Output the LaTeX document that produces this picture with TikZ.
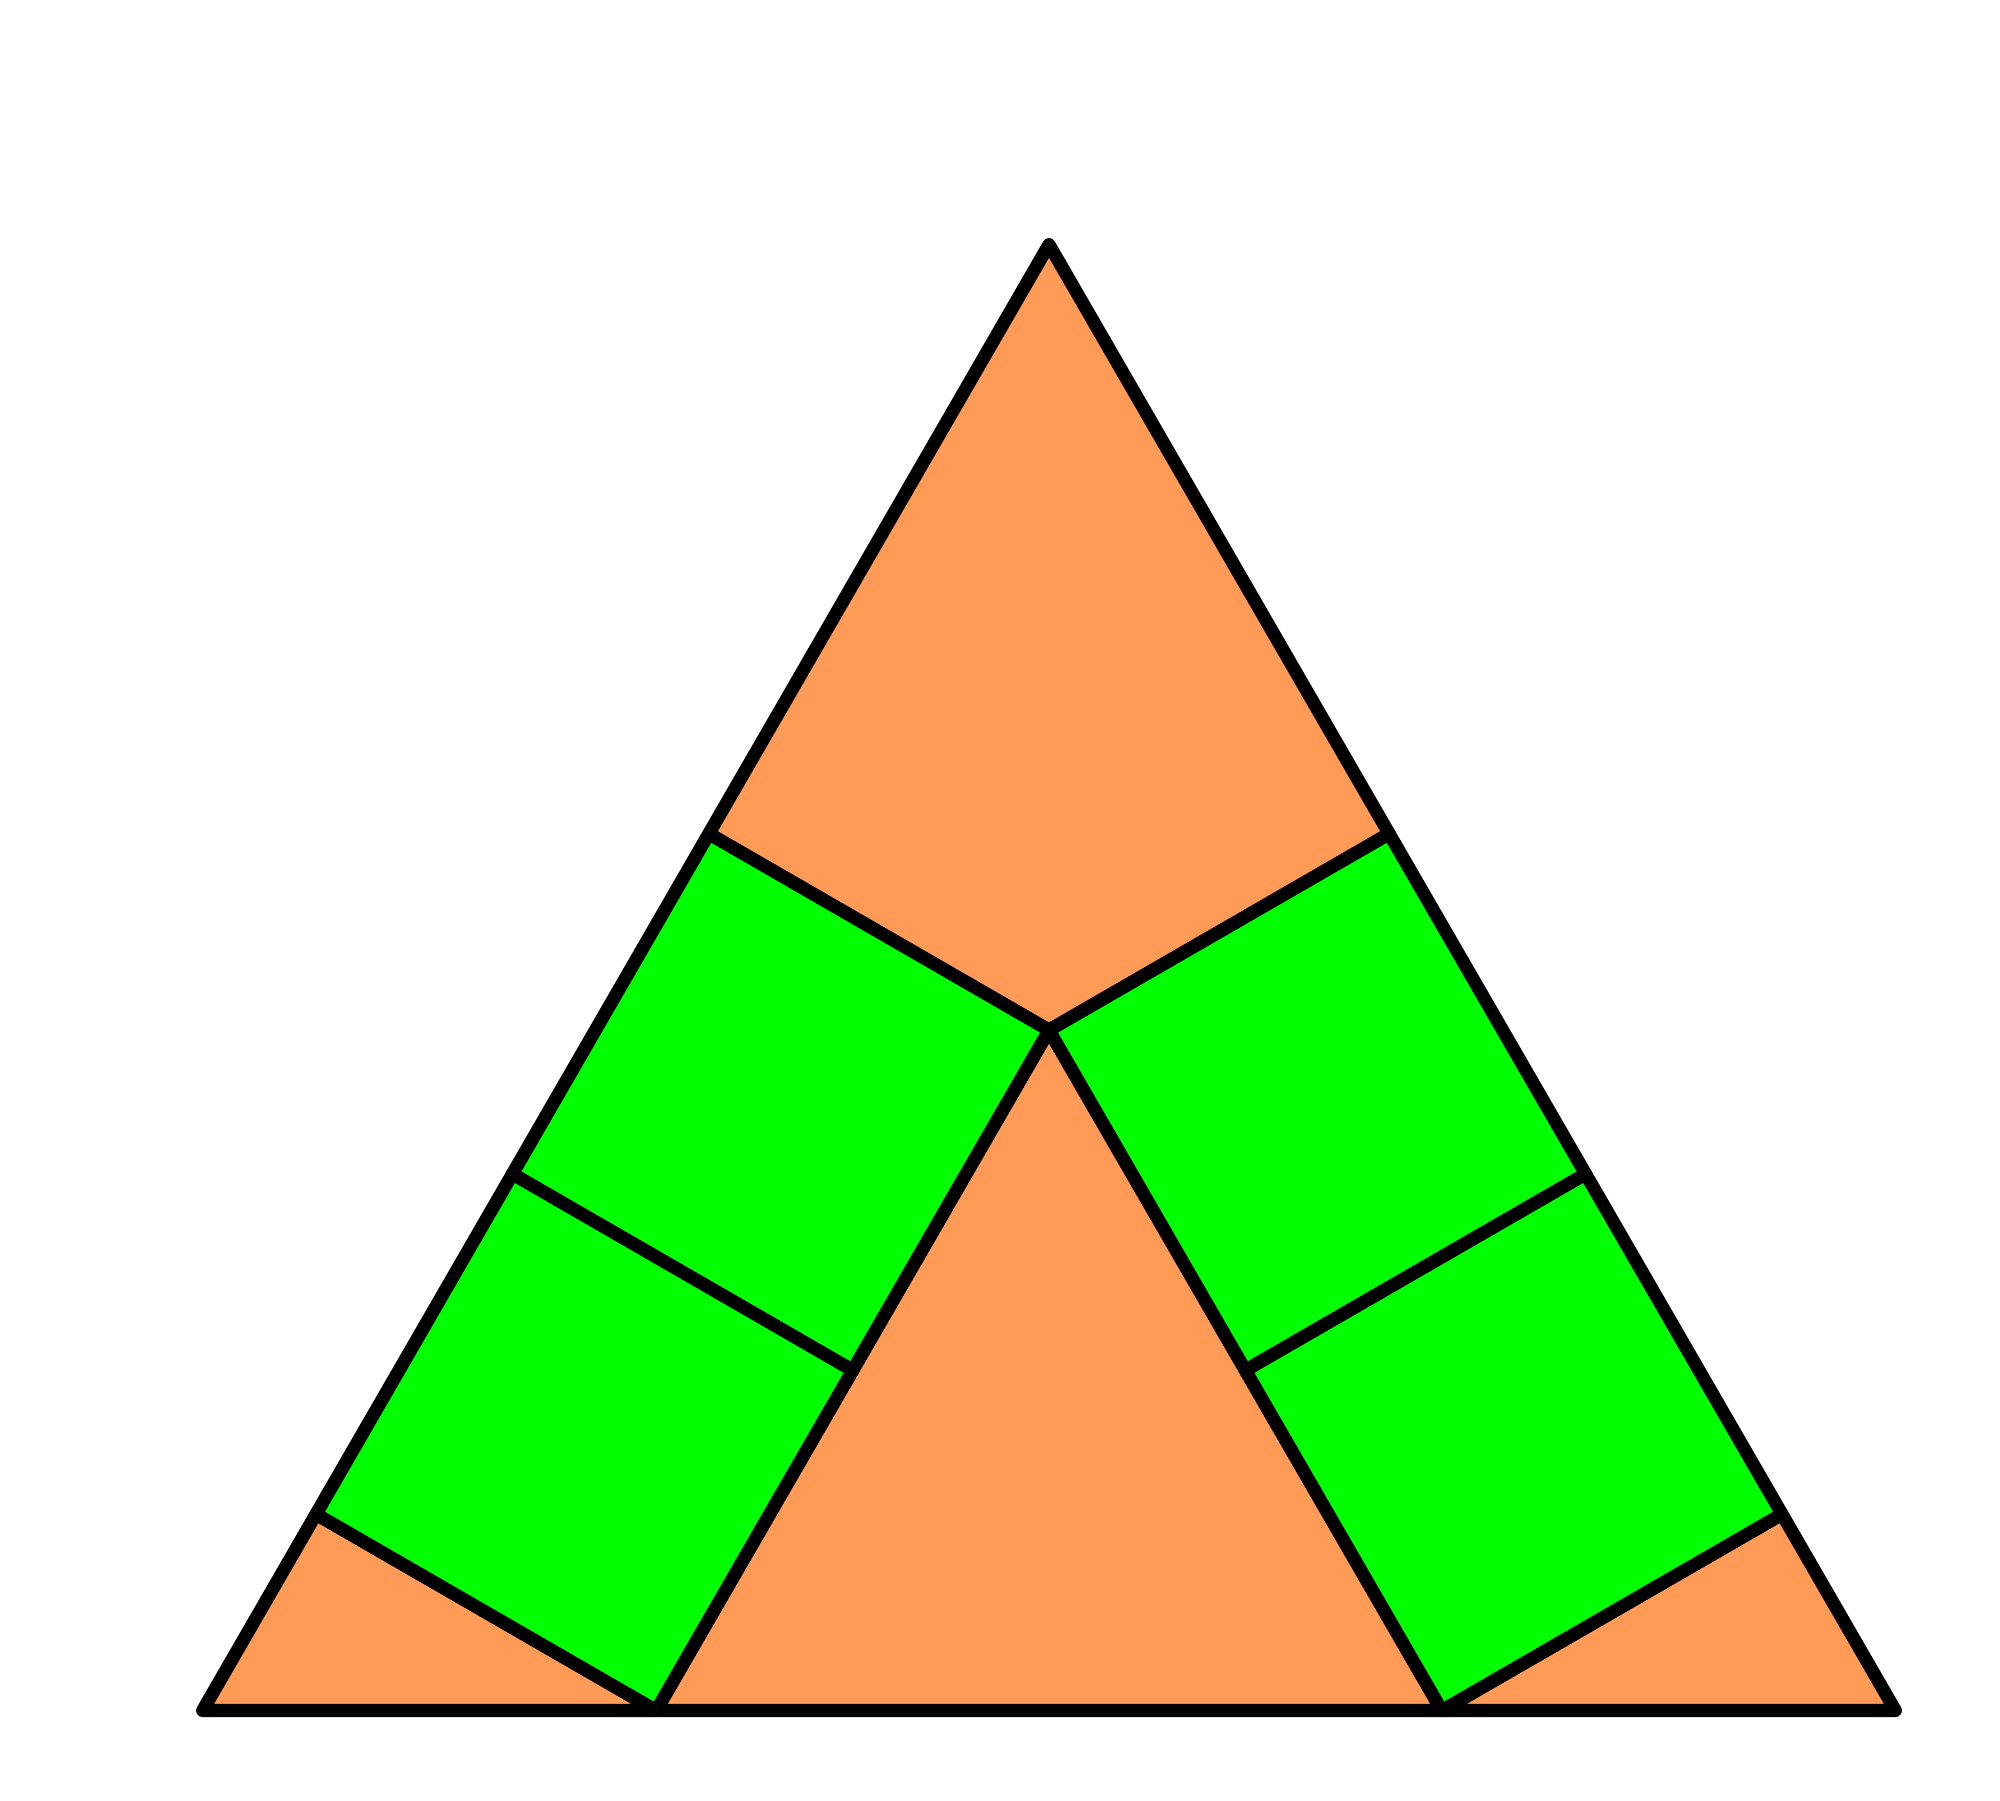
\documentclass[tikz,border=0pt]{standalone}
\usepackage{xcolor}
\definecolor{tan1}{HTML}{FF9A57}
\definecolor{leaf}{HTML}{00FF00}
\usetikzlibrary{calc}
\tikzset{
    piece/.style={
        draw=black,
        line width=1.9pt,
        line join=round,
        line cap=round
    },
    tri/.style={
        piece,
        fill=tan1
    },
    sq/.style={
        piece,
        fill=leaf
    },
}
\begin{document}
\begin{tikzpicture}[x=2cm, y=2cm]
        \useasboundingbox (-2.6705,-0.2278) rectangle (2.421,4.3546);
        \coordinate (b1) at (-1,0);
        \coordinate (b2) at (1,0);
        \coordinate (c) at (0,{sqrt(3)});
        \coordinate (q1) at ($(b1)!0.5!(c)$);
        \coordinate (q2) at ($(b2)!0.5!(c)$);
        \coordinate (p3) at ($(b1)+(150:1)$);
        \coordinate (p2) at ($(q1)+(150:1)$);
        \coordinate (p1) at ($(c)+(150:1)$);
        \coordinate (r3) at ($(b2)+(30:1)$);
        \coordinate (r2) at ($(q2)+(30:1)$);
        \coordinate (r1) at ($(c)+(30:1)$);
        \coordinate (bl) at ({-1-sqrt(3)/2-0.5/sqrt(3)},0);
        \coordinate (br) at ({1+sqrt(3)/2+0.5/sqrt(3)},0);
        \coordinate (a) at (0,{(1+sqrt(3)/2+0.5/sqrt(3))*sqrt(3)});

        % orange triangles
        \draw[tri] (a)--(r1)--(c)--(p1)--cycle;
        \draw[tri] (c)--(b1)--(b2)--cycle;
        \draw[tri] (bl)--(p3)--(b1)--cycle;
        \draw[tri] (br)--(r3)--(b2)--cycle;

        % green squares
        \foreach \i/\j/\k/\l in {p1/c/q1/p2, p2/q1/b1/p3,
                        r1/c/q2/r2, r2/q2/b2/r3}
                            \draw[sq] (\i)--(\j)--(\k)--(\l)--cycle;
\end{tikzpicture}
\end{document}
